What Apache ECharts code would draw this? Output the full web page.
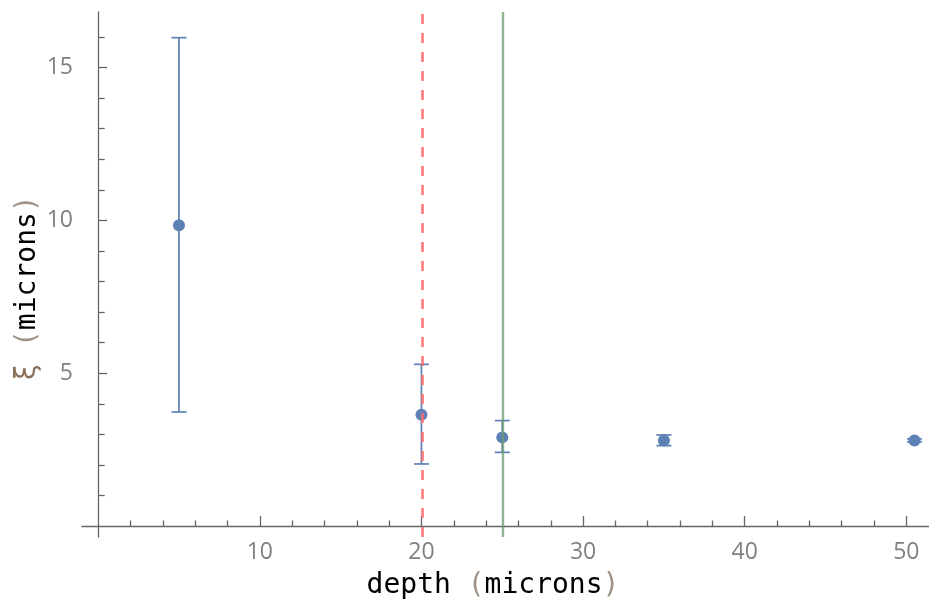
<!DOCTYPE html>
<html>
<head>
<meta charset="utf-8">
<script src="https://cdn.jsdelivr.net/npm/echarts@6/dist/echarts.min.js"></script>
<style>
  html, body { margin: 0; padding: 0; background: #fff; }
  #chart { width: 929px; height: 604px; }
</style>
</head>
<body>
<div id="chart"></div>
<script>
// Correlation length ξ against depth, with error bars
const depth  = [5, 20, 25, 35, 50.5];
const xi     = [9.84, 3.64, 2.90, 2.80, 2.80];
const xiLow  = [3.73, 2.03, 2.41, 2.63, 2.75];
const xiHigh = [15.98, 5.29, 3.45, 2.98, 2.85];

// Reference depths drawn as vertical lines
const dashedDepth = [20.06];
const solidDepth  = [25.06];

// Tick positions and labels
const xMajorTicks = [10, 20, 30, 40, 50];
const xMinorTicks = [2, 4, 6, 8, 12, 14, 16, 18, 22, 24, 26, 28, 32, 34, 36, 38, 42, 44, 46, 48];
const yMajorTicks = [5, 10, 15];
const yMinorTicks = [1, 2, 3, 4, 6, 7, 8, 9, 11, 12, 13, 14, 16];

const blue = '#5e81b5';
const axisGray = '#666666';
const labelGray = '#808080';
const labelFont = { fontFamily: 'Open Sans', fontSize: 23, color: labelGray };

const chart = echarts.init(document.getElementById('chart'), null, { renderer: 'canvas' });

function baseAxis(extra) {
  return Object.assign({
    type: 'value',
    splitLine: { show: false },
    axisLine: { show: true, onZero: true, lineStyle: { color: axisGray, width: 1.3 } },
  }, extra);
}

chart.setOption({
  animation: false,
  backgroundColor: '#ffffff',
  grid: { left: 82, right: 0, top: 12, bottom: 67, containLabel: false },
  xAxis: [
    baseAxis({
      min: -1, max: 51.4, position: 'bottom',
      axisTick: { show: true, inside: true, length: 5.5, customValues: xMinorTicks,
                  lineStyle: { color: axisGray, width: 1.3 } },
      axisLabel: { show: false }
    }),
    baseAxis({
      min: -1, max: 51.4, position: 'bottom',
      axisLine: { show: false, onZero: true },
      axisTick: { show: true, inside: true, length: 10, customValues: xMajorTicks,
                  lineStyle: { color: axisGray, width: 1.3 } },
      axisLabel: Object.assign({ show: true, margin: 4, customValues: xMajorTicks }, labelFont)
    })
  ],
  yAxis: [
    baseAxis({
      min: -0.36, max: 16.82, position: 'left',
      axisTick: { show: true, inside: true, length: 6.5, customValues: yMinorTicks,
                  lineStyle: { color: axisGray, width: 1.3 } },
      axisLabel: { show: false }
    }),
    baseAxis({
      min: -0.36, max: 16.82, position: 'left',
      axisLine: { show: false, onZero: true },
      axisTick: { show: true, inside: true, length: 9, customValues: yMajorTicks,
                  lineStyle: { color: axisGray, width: 1.3 } },
      axisLabel: Object.assign({ show: true, margin: 9, customValues: yMajorTicks }, labelFont)
    })
  ],
  graphic: [
    {
      type: 'text', x: 493, y: 586, z: 10,
      style: {
        text: '{b|depth }{p|(}{b|microns}{p|)}',
        align: 'center', verticalAlign: 'middle',
        rich: {
          b: { fontFamily: 'DejaVu Sans Mono', fontSize: 28, fill: '#000000' },
          p: { fontFamily: 'DejaVu Sans Mono', fontSize: 28, fill: '#a09488' }
        }
      }
    },
    {
      type: 'text', x: 28, y: 288, rotation: Math.PI / 2, z: 10,
      style: {
        text: '{g|ξ }{p|(}{b|microns}{p|)}',
        align: 'center', verticalAlign: 'middle',
        rich: {
          g: { fontFamily: 'DejaVu Sans Mono', fontSize: 28, fill: '#8a7058' },
          b: { fontFamily: 'DejaVu Sans Mono', fontSize: 28, fill: '#000000' },
          p: { fontFamily: 'DejaVu Sans Mono', fontSize: 28, fill: '#a09488' }
        }
      }
    }
  ],
  series: [
    {
      type: 'custom',
      name: 'error',
      xAxisIndex: 0, yAxisIndex: 0,
      z: 2,
      encode: { x: 0, y: [1, 2] },
      data: depth.map((d, i) => [d, xiLow[i], xiHigh[i]]),
      renderItem: function (params, api) {
        const x = api.value(0);
        const lo = api.coord([x, api.value(1)]);
        const hi = api.coord([x, api.value(2)]);
        const hw = 7.5;
        const style = { stroke: blue, lineWidth: 1.7 };
        return {
          type: 'group',
          children: [
            { type: 'line', shape: { x1: hi[0], y1: hi[1], x2: lo[0], y2: lo[1] }, style: style },
            { type: 'line', shape: { x1: hi[0] - hw, y1: hi[1], x2: hi[0] + hw, y2: hi[1] }, style: style },
            { type: 'line', shape: { x1: lo[0] - hw, y1: lo[1], x2: lo[0] + hw, y2: lo[1] }, style: style }
          ]
        };
      }
    },
    {
      type: 'scatter',
      name: 'xi',
      xAxisIndex: 0, yAxisIndex: 0,
      z: 3,
      symbol: 'circle',
      symbolSize: 12,
      itemStyle: { color: blue, opacity: 1 },
      data: depth.map((d, i) => [d, xi[i]])
    },
    {
      type: 'line',
      name: 'limits',
      xAxisIndex: 0, yAxisIndex: 0,
      z: 4,
      data: [],
      markLine: {
        silent: true,
        symbol: ['none', 'none'],
        label: { show: false },
        animation: false,
        data: dashedDepth.map(v => ({
          xAxis: v,
          lineStyle: { color: '#ff6b6b', width: 2.6, type: [10, 9], opacity: 0.9 }
        })).concat(solidDepth.map(v => ({
          xAxis: v,
          lineStyle: { color: '#6d9a6d', width: 2.4, type: 'solid', opacity: 0.75 }
        })))
      }
    }
  ]
});
</script>
</body>
</html>
